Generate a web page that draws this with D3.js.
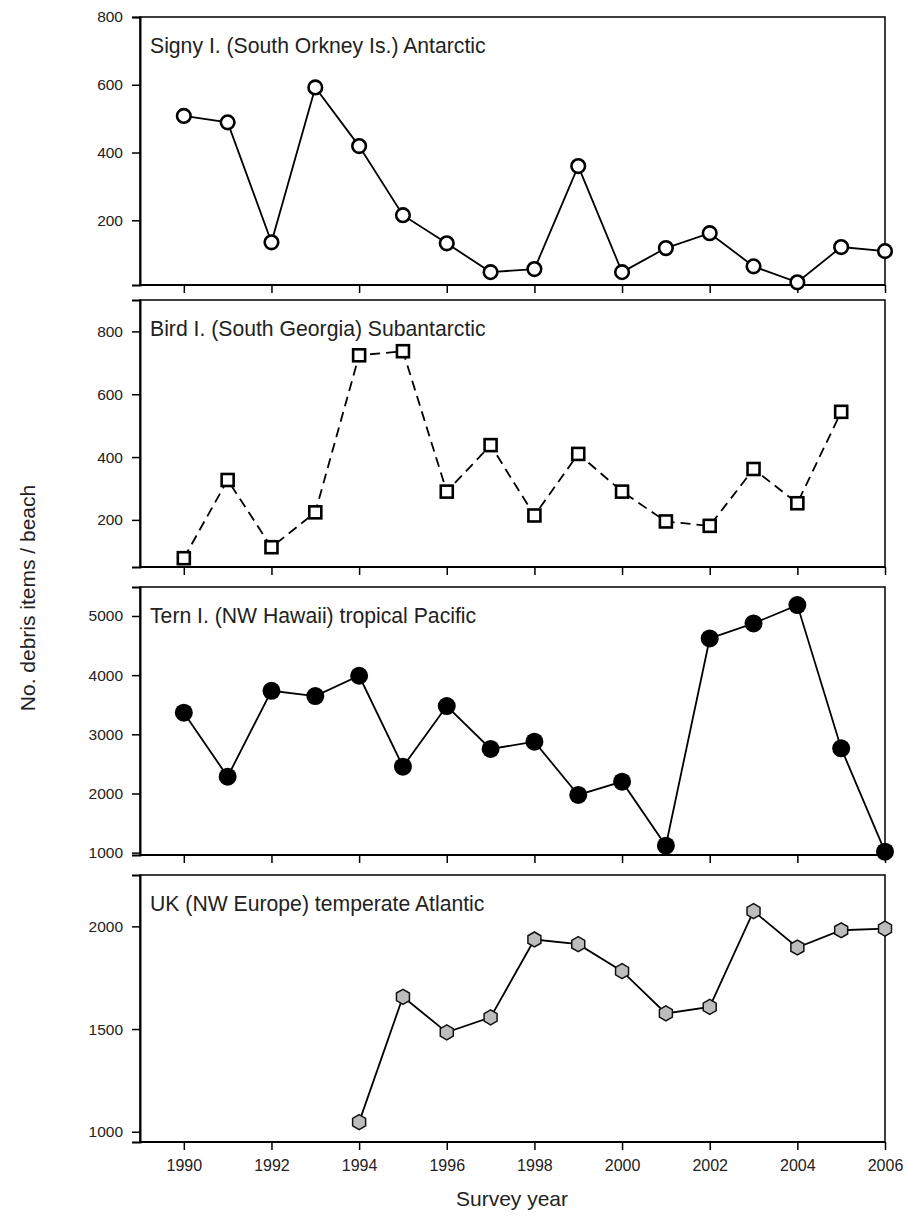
<!DOCTYPE html>
<html><head><meta charset="utf-8">
<script src="https://cdn.jsdelivr.net/npm/d3@7"></script>
<style>body{margin:0;background:#fff}svg{display:block}text{font-family:"Liberation Sans",Arial,sans-serif;fill:#222}</style>
</head><body><svg id="c" width="909" height="1229"></svg>
<script>
const years = [1990,1991,1992,1993,1994,1995,1996,1997,1998,1999,2000,2001,2002,2003,2004,2005,2006];
const signy = [508,489,135,592,419,215,132,47,56,360,47,118,162,64,17,121,109];
const bird  = [78,327,113,224,724,737,290,438,214,410,290,195,181,362,253,544,null];
const tern  = [3365,2284,3736,3647,3990,2453,3478,2752,2875,1975,2200,1118,4620,4875,5184,2764,1017];
const uk    = [null,null,null,null,1047,1657,1484,1557,1936,1913,1782,1576,1608,2074,1897,1981,1989];
const xTicks = [1990,1992,1994,1996,1998,2000,2002,2004,2006];
const titles = ["Signy I. (South Orkney Is.) Antarctic","Bird I. (South Georgia) Subantarctic","Tern I. (NW Hawaii) tropical Pacific","UK (NW Europe) temperate Atlantic"];
const yTicks = [[200,400,600,800],[200,400,600,800],[1000,2000,3000,4000,5000],[1000,1500,2000]];
const yDomains = [[9,800],[50,900],[960,5490],[950,2250]];

const svg = d3.select("#c");
const L = 140, R = 885;
const x = d3.scaleLinear().domain([1989,2006]).range([L,R]);
const panels = [
  {top:17,bottom:285,data:signy,marker:"circleOpen"},
  {top:300,bottom:567,data:bird,marker:"square"},
  {top:587,bottom:855,data:tern,marker:"circleFill"},
  {top:875,bottom:1142,data:uk,marker:"hex"}
];
panels.forEach((p,i)=>{
  const y = d3.scaleLinear().domain(yDomains[i]).range([p.bottom,p.top]);
  const g = svg.append("g");
  g.append("rect").attr("x",L).attr("y",p.top).attr("width",R-L).attr("height",p.bottom-p.top)
    .attr("fill","none").attr("stroke","#000").attr("stroke-width",1.5);
  const ya = g.append("g").attr("transform",`translate(${L},0)`)
    .call(d3.axisLeft(y).tickValues(yTicks[i]).tickSize(8).tickPadding(9).tickFormat(d3.format("d")));
  ya.select(".domain").attr("stroke-width",2);
  ya.selectAll("text").style("font-size","15.5px").style("font-family","Liberation Sans, Arial, sans-serif").attr("fill","#222");
  ya.selectAll(".tick line").attr("stroke-width",1.5);
  const xa = g.append("g").attr("transform",`translate(0,${p.bottom})`)
    .call(d3.axisBottom(x).tickValues(xTicks).tickSize(8).tickPadding(10).tickFormat(i===3?d3.format("d"):""));
  xa.select(".domain").attr("stroke-width",2).attr("d",`M${L},0H${R}`);
  xa.selectAll(".tick line").attr("stroke-width",1.5);
  xa.selectAll("text").style("font-size","16px").style("font-family","Liberation Sans, Arial, sans-serif").attr("fill","#222");
  g.append("text").attr("x",150).attr("y",p.top+36).style("font-size","21.2px").text(titles[i]);
  const pts = years.map((yr,k)=>({yr,v:p.data[k]})).filter(d=>d.v!==null);
  const line = d3.line().x(d=>x(d.yr)).y(d=>y(d.v));
  g.append("path").datum(pts).attr("d",line).attr("fill","none").attr("stroke","#000")
    .attr("stroke-width",1.8).attr("stroke-dasharray",p.marker==="square"?"10,6":null);
  const m = g.selectAll(".m").data(pts).enter();
  if(p.marker==="circleOpen"){
    m.append("circle").attr("cx",d=>x(d.yr)).attr("cy",d=>y(d.v)).attr("r",6.8)
      .attr("fill","#fff").attr("stroke","#000").attr("stroke-width",2.6);
  } else if(p.marker==="square"){
    m.append("rect").attr("x",d=>x(d.yr)-6).attr("y",d=>y(d.v)-6).attr("width",12).attr("height",12)
      .attr("fill","#fff").attr("stroke","#000").attr("stroke-width",2.6);
  } else if(p.marker==="circleFill"){
    m.append("circle").attr("cx",d=>x(d.yr)).attr("cy",d=>y(d.v)).attr("r",9).attr("fill","#000");
  } else {
    const hex = d3.range(6).map(k=>{const a=Math.PI/3*k+Math.PI/6;return [7.5*Math.cos(a),7.5*Math.sin(a)];});
    m.append("polygon").attr("points",hex.map(q=>q.join(",")).join(" "))
      .attr("transform",d=>`translate(${x(d.yr)},${y(d.v)})`)
      .attr("fill","#bdbdbd").attr("stroke","#111").attr("stroke-width",1.5);
  }
});
svg.append("text").attr("transform","translate(35,598) rotate(-90)").attr("text-anchor","middle")
  .style("font-size","21px").text("No. debris items / beach");
svg.append("text").attr("x",512).attr("y",1206).attr("text-anchor","middle")
  .style("font-size","21px").text("Survey year");
</script></body></html>
